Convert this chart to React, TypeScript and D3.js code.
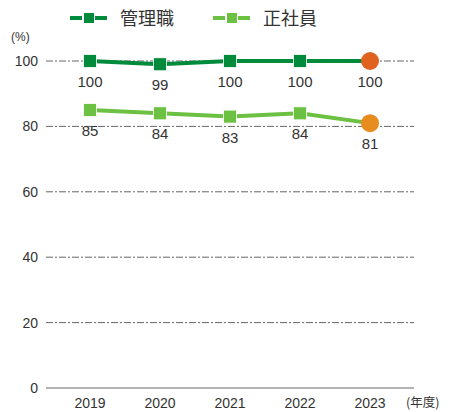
import React from "react";
import * as d3 from "d3";

const years = ["2019", "2020", "2021", "2022", "2023"];
const managers = [100, 99, 100, 100, 100];
const regular = [85, 84, 83, 84, 81];
const yTicks = [0, 20, 40, 60, 80, 100];

const W = 453;
const H = 412;

export default function App() {
  const x = d3.scalePoint<string>().domain(years).range([90, 370]);
  const y = d3.scaleLinear().domain([0, 100]).range([388, 61]);
  const line = d3
    .line<number>()
    .x((_, i) => x(years[i]) as number)
    .y((d) => y(d));

  const series = [
    { name: "管理職", values: managers, color: "#008a3c", last: "#e0621f" },
    { name: "正社員", values: regular, color: "#6cc042", last: "#e88c1f" },
  ];
  const font = "'Liberation Sans', Arial, sans-serif";

  return (
    <svg
      width={W}
      height={H}
      style={{ position: "absolute", left: 0, top: 0, background: "#fff" }}
      fontFamily={font}
    >
      {/* legend */}
      {series.map((s, i) => {
        const lx = i === 0 ? 70 : 213;
        return (
          <g key={s.name}>
            <line x1={lx} x2={lx + 12} y1={18} y2={18} stroke={s.color} strokeWidth={4} />
            <line x1={lx + 25} x2={lx + 37} y1={18} y2={18} stroke={s.color} strokeWidth={4} />
            <rect x={lx + 14} y={13} width={10} height={10} fill={s.color} />
            <text
              x={lx + 50}
              y={25}
              fontSize={18}
              fill="#333"
              fontFamily="'Noto Sans CJK JP', sans-serif"
            >
              {s.name}
            </text>
          </g>
        );
      })}
      <text x={11} y={41} fontSize={12} fill="#333">(%)</text>

      {/* grid */}
      {yTicks.map((t) => (
        <g key={t}>
          {t === 0 ? (
            <line x1={46} x2={414} y1={y(t)} y2={y(t)} stroke="#666" strokeWidth={1.2} />
          ) : (
            <line
              x1={46}
              x2={414}
              y1={y(t)}
              y2={y(t)}
              stroke="#666"
              strokeWidth={1}
              strokeDasharray="7 2 2 2"
            />
          )}
          <text x={38} y={y(t) + 5} fontSize={14} fill="#333" textAnchor="end">
            {t}
          </text>
        </g>
      ))}

      {/* x labels */}
      {years.map((yr) => (
        <text key={yr} x={x(yr)} y={408} fontSize={14} fill="#333" textAnchor="middle">
          {yr}
        </text>
      ))}
      <text x={406} y={407} fontSize={12.5} fill="#333" fontFamily="'Noto Sans CJK JP', sans-serif">
        (年度)
      </text>

      {/* series */}
      {series.map((s) => (
        <g key={s.name}>
          <path d={line(s.values) || ""} fill="none" stroke={s.color} strokeWidth={4} />
          {s.values.map((v, i) =>
            i === s.values.length - 1 ? (
              <circle key={i} cx={x(years[i])} cy={y(v)} r={9} fill={s.last} />
            ) : (
              <rect
                key={i}
                x={(x(years[i]) as number) - 6.5}
                y={y(v) - 6.5}
                width={13}
                height={13}
                fill={s.color}
                stroke="#fff"
                strokeWidth={0.8}
              />
            )
          )}
          {s.values.map((v, i) => (
            <text
              key={"l" + i}
              x={x(years[i])}
              y={y(v) + 26}
              fontSize={15}
              fill="#333"
              textAnchor="middle"
            >
              {v}
            </text>
          ))}
        </g>
      ))}
    </svg>
  );
}
